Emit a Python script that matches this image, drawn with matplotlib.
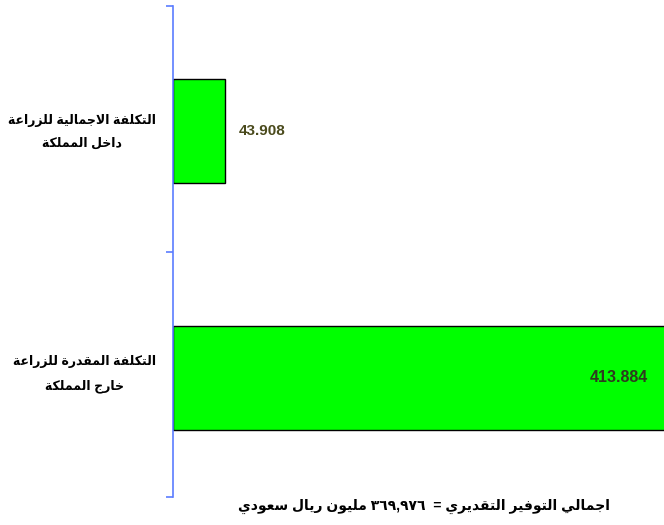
import matplotlib
matplotlib.use("Agg")
import matplotlib.pyplot as plt
import matplotlib.transforms as mtransforms

# data
categories = [["التكلفة الاجمالية للزراعة", "داخل المملكة"],
              ["التكلفة المقدرة للزراعة", "خارج المملكة"]]
values = [43.908, 413.884]
value_colors = ["#4a4a1c", "#2f3a1f"]
footer = "اجمالي التوفير التقديري =  ٣٦٩,٩٧٦ مليون ريال سعودي"

# minimal arabic shaping (matplotlib has no bidi / shaping)
FORMS = {  # isolated, final, initial, medial
  "ا": (0xFE8D, 0xFE8E, None, None),
  "ة": (0xFE93, 0xFE94, None, None),
  "ت": (0xFE95, 0xFE96, 0xFE97, 0xFE98),
  "ج": (0xFE9D, 0xFE9E, 0xFE9F, 0xFEA0),
  "خ": (0xFEA5, 0xFEA6, 0xFEA7, 0xFEA8),
  "د": (0xFEA9, 0xFEAA, None, None),
  "ر": (0xFEAD, 0xFEAE, None, None),
  "ز": (0xFEAF, 0xFEB0, None, None),
  "س": (0xFEB1, 0xFEB2, 0xFEB3, 0xFEB4),
  "ع": (0xFEC9, 0xFECA, 0xFECB, 0xFECC),
  "ف": (0xFED1, 0xFED2, 0xFED3, 0xFED4),
  "ق": (0xFED5, 0xFED6, 0xFED7, 0xFED8),
  "ك": (0xFED9, 0xFEDA, 0xFEDB, 0xFEDC),
  "ل": (0xFEDD, 0xFEDE, 0xFEDF, 0xFEE0),
  "م": (0xFEE1, 0xFEE2, 0xFEE3, 0xFEE4),
  "ن": (0xFEE5, 0xFEE6, 0xFEE7, 0xFEE8),
  "و": (0xFEED, 0xFEEE, None, None),
  "ي": (0xFEF1, 0xFEF2, 0xFEF3, 0xFEF4),
  "لا": (0xFEFB, 0xFEFC, None, None),
}

def dual(c):
  return c in FORMS and FORMS[c][2] is not None

def shape_word(word):
  # merge lam-alef
  chars = []
  i = 0
  while i < len(word):
    if word[i] == "ل" and i + 1 < len(word) and word[i + 1] == "ا":
      chars.append("لا")
      i += 2
    else:
      chars.append(word[i])
      i += 1
  out = []
  for i, c in enumerate(chars):
    if c not in FORMS:
      out.append(c)
      continue
    prev_joins = i > 0 and dual(chars[i - 1])
    next_joins = dual(c) and i + 1 < len(chars) and chars[i + 1] in FORMS
    iso, fin, ini, med = FORMS[c]
    if prev_joins and next_joins:
      code = med
    elif prev_joins:
      code = fin
    elif next_joins:
      code = ini
    else:
      code = iso
    out.append(chr(code))
  if any(c in FORMS for c in chars):
    return "".join(out[::-1])
  return "".join(out)  # numbers stay left to right

def visual(text):
  # right to left: last word drawn first
  return " ".join(shape_word(w) for w in text.split(" ")[::-1])

FAM = ["Liberation Sans", "DejaVu Sans"]
blue = "#5b7dff"

fig = plt.figure(figsize=(6.64, 5.25), dpi=100)
ax = fig.add_axes([173 / 664, 1 - 497 / 525, 491 / 664, 491 / 525])

ypos = [0.51, 1.515]
ax.barh(ypos, values, height=0.425, color="#00ff00", edgecolor="black", linewidth=1.0)
ax.set_xlim(0, 412)
ax.set_ylim(2, 0)

for s in ["top", "right", "bottom"]:
  ax.spines[s].set_visible(False)
ax.spines["left"].set_color(blue)
ax.spines["left"].set_linewidth(1.2)
ax.set_xticks([])
ax.set_yticks([0, 1, 2])
ax.set_yticklabels([])
ax.tick_params(axis="y", which="major", length=5, width=1.2, color=blue, direction="out")
ax.set_yticks([0.485, 1.47], minor=True)
ax.set_yticklabels(["\n".join(visual(l) for l in c) for c in categories], minor=True)
ax.tick_params(axis="y", which="minor", length=0, pad=12)
for t in ax.get_yticklabels(minor=True):
  t.set_family(FAM)
  t.set_fontweight("bold")
  t.set_fontsize(9)
  t.set_multialignment("center")
  t.set_linespacing(2.1)

ax.annotate(f"{values[0]:.3f}", (values[0], ypos[0]), xytext=(10, 0), textcoords="offset points",
            ha="left", va="center", fontsize=11, fontweight="bold", color=value_colors[0], family=FAM)
tr = mtransforms.blended_transform_factory(ax.transAxes, ax.transData)
ax.text(1 - 16 / 491, ypos[1], f"{values[1]:.3f}", transform=tr, ha="right", va="center",
        fontsize=11.5, fontweight="bold", color=value_colors[1], family=FAM)

fig.text(424 / 664, 1 - 506 / 525, visual(footer), ha="center", va="center",
         fontsize=10, fontweight="bold", family=FAM)

fig.savefig("out.png", dpi=100)
